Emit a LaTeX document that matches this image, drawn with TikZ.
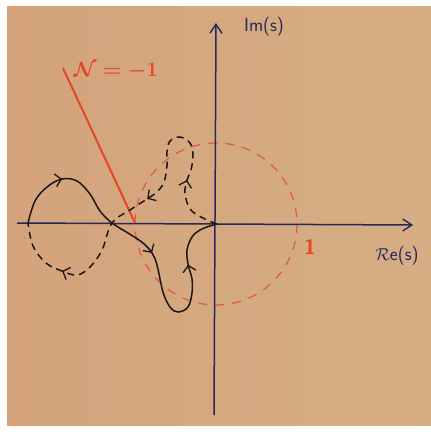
\documentclass[tikz,border=0pt]{standalone}
\usepackage{fontspec}
\usetikzlibrary{arrows.meta,decorations.markings}
\definecolor{paperA}{RGB}{212,163,124}
\definecolor{paperB}{RGB}{214,174,132}
\definecolor{axisblue}{RGB}{38,40,92}
\definecolor{penred}{RGB}{232,68,38}
\definecolor{circred}{RGB}{218,92,70}
\definecolor{ink}{RGB}{28,22,22}
\tikzset{
  axisline/.style={axisblue, line width=1.5pt, -{Straight Barb[length=9pt,width=12pt,line width=1.4pt]}},
  curvesolid/.style={ink, line width=1.5pt, line cap=round},
  curvedashed/.style={ink, line width=1.5pt, dash pattern=on 7pt off 5pt},
  unitcircle/.style={circred, line width=1.2pt, dash pattern=on 9pt off 8pt},
  redline/.style={penred, line width=2pt},
  lbl/.style={inner sep=0pt},
}
\newcommand{\chev}{\arrow{Straight Barb[length=6pt,width=13pt,line width=1.3pt]}}
\begin{document}
\begin{tikzpicture}[x=1pt,y=-1pt]
\useasboundingbox (0,0) rectangle (431,432);
\fill[white] (0,0) rectangle (431,432);
\shade[left color=paperA, right color=paperB] (7,6) rectangle (431,425);

% unit circle
\draw[unitcircle] (216,224) circle[radius=81];

% axes
\coordinate (xl) at (17,223);
\coordinate (xr) at (413,225);
\coordinate (yb) at (214,415);
\coordinate (yt) at (216,23);
\draw[axisline] (xl) -- (xr);
\draw[axisline] (yb) -- (yt);

% red line to -1
\coordinate (rtop) at (63,68);
\coordinate (rm1) at (135,223);
\draw[redline] (rtop) -- (rm1);

% solid part of Nyquist curve
\draw[curvesolid, postaction={decorate}, decoration={markings,
   mark=at position 0.164 with {\chev},
   mark=at position 0.50 with {\chev},
   mark=at position 0.84 with {\chev}}]
  plot[smooth, tension=0.6] coordinates {(28,223) (35,201) (47,187) (62,179) (77,181) (90,194) (100,211) (112,223) (128,233) (143,243) (152,253) (157,265) (163,292) (170,307) (178,312) (188,307) (192,293) (192,279) (188,264) (187,250) (192,237) (200,230) (210,226) (217,224)};

% dashed part
\draw[curvedashed, postaction={decorate}, decoration={markings,
   mark=at position 0.163 with {\chev},
   mark=at position 0.503 with {\chev},
   mark=at position 0.832 with {\chev}}]
  plot[smooth, tension=0.6] coordinates {(217,224) (203,218) (190,209) (185,193) (187,180) (191,170) (193,155) (190,143) (180,137) (170,141) (167,152) (167,166) (164,182) (157,192) (147,199) (130,210) (112,223) (102,250) (90,267) (77,275) (62,271) (46,263) (33,246) (28,223)};

% labels
\node[lbl, text=axisblue, font=\sffamily\fontsize{19}{19}\selectfont] (im) at (264,27) {Im(s)};
\node[lbl, text=axisblue, font=\sffamily\fontsize{19}{19}\selectfont] (re) at (397,256) {$\mathcal{R}$e(s)};
\node[lbl, text=penred, font=\boldmath\fontsize{21}{21}\selectfont] (nlab) at (116,71) {$\mathcal{N}=-1$};
\node[lbl, text=penred, font=\sffamily\bfseries\fontsize{21}{21}\selectfont] (one) at (310,247) {1};
\end{tikzpicture}
\end{document}
